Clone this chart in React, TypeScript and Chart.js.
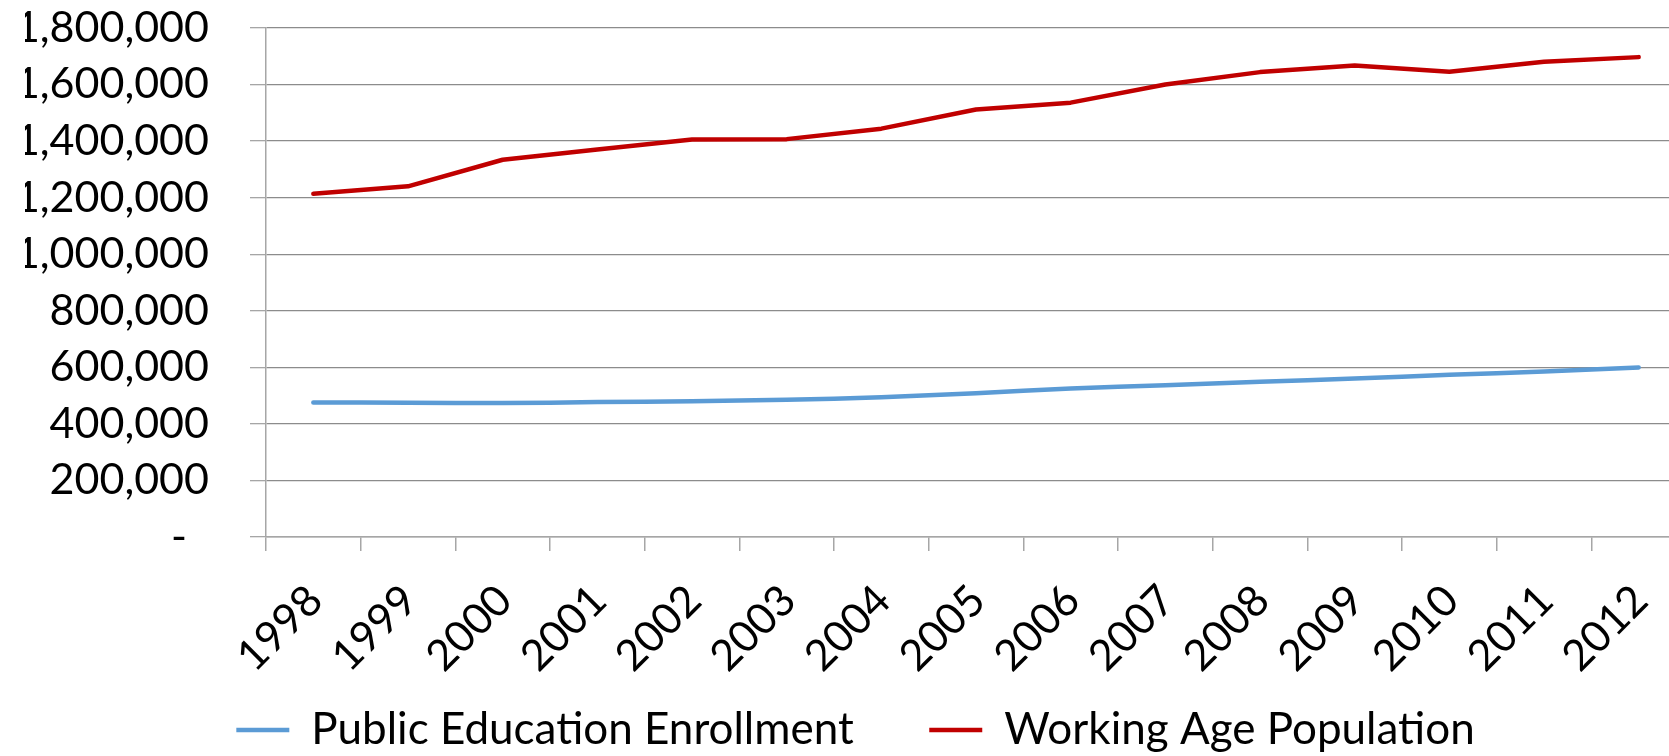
import React, { useEffect, useRef } from "react";
import { Chart, registerables } from "chart.js";

Chart.register(...registerables);

const categories = ["1998", "1999", "2000", "2001", "2002", "2003", "2004", "2005", "2006", "2007", "2008", "2009", "2010", "2011", "2012"];
const enrollment = [476000, 475000, 474000, 477000, 480500, 485000, 494500, 508700, 525000, 537000, 548800, 560600, 573600, 585400, 599600];
const workingAge = [1214000, 1240000, 1334000, 1370000, 1406000, 1407000, 1444000, 1512000, 1536000, 1600000, 1644000, 1667000, 1645000, 1681000, 1697000];
const seriesNames = ["Public Education Enrollment", "Working Age Population"];
const yMin = 0;
const yMax = 1800000;
const yStep = 200000;

const FONT = "Lato, 'Open Sans', sans-serif";
const W = 1700;
const H = 762;

export default function App() {
  const ref = useRef<HTMLCanvasElement | null>(null);
  useEffect(() => {
    const canvas = ref.current;
    if (!canvas) return;
    const chart = new Chart(canvas, {
      type: "line",
      data: {
        labels: categories,
        datasets: [
          {
            label: seriesNames[0],
            data: enrollment,
            borderColor: "#5B9BD5",
            backgroundColor: "#5B9BD5",
            borderWidth: 4.5,
            pointRadius: 0,
            tension: 0.4,
            borderCapStyle: "round",
            borderJoinStyle: "round",
          },
          {
            label: seriesNames[1],
            data: workingAge,
            borderColor: "#C00000",
            backgroundColor: "#C00000",
            borderWidth: 4.5,
            pointRadius: 0,
            tension: 0,
            borderCapStyle: "round",
            borderJoinStyle: "round",
          },
        ],
      },
      options: {
        animation: false,
        responsive: false,
        devicePixelRatio: 1,
        layout: { padding: { top: 28, left: 25, right: 14, bottom: 0 } },
        plugins: {
          tooltip: { enabled: false },
          legend: {
            position: "bottom",
            labels: {
              usePointStyle: true,
              pointStyle: "line",
              pointStyleWidth: 53,
              padding: 8,
              color: "#000",
              font: { family: FONT, size: 44 },
              generateLabels: (c: any) => {
                const items = Chart.defaults.plugins.legend.labels.generateLabels(c);
                items.forEach((it: any, i: number) => {
                  if (i < items.length - 1) it.text = it.text + "      ";
                });
                return items;
              },
            },
          },
        },
        scales: {
          x: {
            offset: true,
            grid: {
              offset: true,
              drawOnChartArea: false,
              drawTicks: true,
              tickLength: 14,
              tickColor: "#A6A6A6",
              lineWidth: 1.5,
            },
            border: { color: "#A6A6A6", width: 1.5 },
            ticks: {
              autoSkip: false,
              minRotation: 45,
              maxRotation: 45,
              padding: 24,
              labelOffset: 2,
              color: "#000",
              font: { family: FONT, size: 43 },
            },
            afterFit: (scale: any) => {
              scale.height = 163;
            },
          },
          y: {
            min: yMin,
            max: yMax,
            ticks: {
              stepSize: yStep,
              autoSkip: false,
              padding: 41,
              color: "#000",
              font: { family: FONT, size: 43 },
              callback: (v: any) => (Number(v) === 0 ? "-  " : Number(v).toLocaleString("en-US")),
            },
            grid: {
              color: "#8C8C8C",
              lineWidth: 1.3,
              drawTicks: true,
              tickLength: 16,
              tickColor: "#A6A6A6",
            },
            border: { color: "#A6A6A6", width: 1.5 },
            afterFit: (scale: any) => {
              scale.width = 241;
              scale.paddingTop = 0;
              scale.paddingBottom = 0;
            },
          },
        },
      },
    });
    return () => chart.destroy();
  }, []);
  return (
    <div style={{ position: "absolute", left: 0, top: 0, width: 1669, height: 756, overflow: "hidden", background: "#fff" }}>
      <canvas ref={ref} width={W} height={H} style={{ width: W, height: H, display: "block" }} />
    </div>
  );
}
